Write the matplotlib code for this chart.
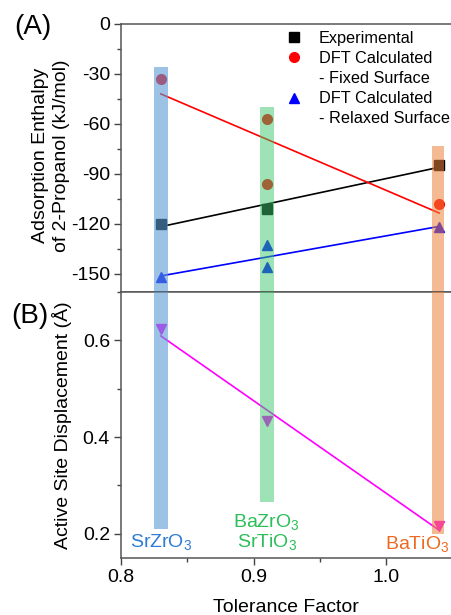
import numpy as np
import matplotlib
matplotlib.use("Agg")
import matplotlib.pyplot as plt
from matplotlib.lines import Line2D
from matplotlib.ticker import MultipleLocator

plt.rcParams['font.family'] = ['Liberation Sans', 'DejaVu Sans']
plt.rcParams['axes.unicode_minus'] = False

# tolerance factor for each material
tol_exp = [0.83, 0.91, 1.04]
h_exp = [-120, -111, -85]

tol_fixed = [0.83, 0.91, 0.91, 1.04]
h_fixed = [-33, -57, -96, -108]

tol_relax = [0.83, 0.91, 0.91, 1.04]
h_relax = [-152, -133, -146, -122]

tol_disp = [0.83, 0.91, 1.04]
disp = [0.623, 0.434, 0.216]

# shaded material bands
band_x = [0.83, 0.91, 1.0395]
band_top = [-26, -50, -73]          # in enthalpy units (panel A)
band_bottom = [0.21, 0.265, 0.20]   # in displacement units (panel B)
band_colors = ['#5B9BD5', '#3CC86E', '#EB823C']
band_alpha = [0.6, 0.5, 0.55]
band_width = [0.0105, 0.0105, 0.009]

mat_labels = ['SrZrO$_\\mathregular{3}$',
              'BaZrO$_\\mathregular{3}$\nSrTiO$_\\mathregular{3}$',
              'BaTiO$_\\mathregular{3}$']
mat_label_colors = ['#2F7BD6', '#2DBE5A', '#EC6A22']

fig = plt.figure(figsize=(4.51, 6.15), dpi=100)
ax1 = fig.add_axes([0.2683, 0.5252, 0.7317, 0.4358])
ax2 = fig.add_axes([0.2683, 0.0927, 0.7317, 0.4325])

xlim = (0.8, 1.049)
fit_x = np.array([0.83, 1.04])


def fit_line(x, y):
    p = np.polyfit(x, y, 1)
    return np.polyval(p, fit_x)


# panel A
ax1.plot(tol_exp, h_exp, 's', color='black', ms=6.5, zorder=3)
ax1.plot(tol_fixed, h_fixed, 'o', color='red', ms=7, zorder=3)
ax1.plot(tol_relax, h_relax, '^', color='blue', ms=7.5, zorder=3)
ax1.plot(fit_x, fit_line(tol_exp, h_exp), color='black', lw=1.2, zorder=2)
ax1.plot(fit_x, fit_line(tol_fixed, h_fixed), color='red', lw=1.2, zorder=2)
ax1.plot(fit_x, fit_line(tol_relax, h_relax), color='blue', lw=1.2, zorder=2)

ax1.set_xlim(*xlim)
ax1.set_ylim(-161, 0)
for x, top, c, a, w in zip(band_x, band_top, band_colors, band_alpha, band_width):
    ax1.bar(x, top - (-200), bottom=-200, width=w, color=c, alpha=a,
            lw=0, zorder=4)

ax1.yaxis.set_major_locator(MultipleLocator(30))
ax1.yaxis.set_minor_locator(MultipleLocator(15))
ax1.set_xticks([])
ax1.set_ylabel('Adsorption Enthalpy\nof 2-Propanol (kJ/mol)', fontsize=14,
               linespacing=1.3)
ax1.yaxis.set_label_coords(-0.155, 0.51)
ax1.spines['right'].set_visible(False)

handles = [Line2D([], [], ls='none', marker='s', color='black', ms=6.5),
           Line2D([], [], ls='none', marker='o', color='red', ms=7),
           Line2D([], [], ls='none', marker=None),
           Line2D([], [], ls='none', marker='^', color='blue', ms=7.5),
           Line2D([], [], ls='none', marker=None)]
labels = ['Experimental', 'DFT Calculated', '- Fixed Surface',
          'DFT Calculated', '- Relaxed Surface']
leg = ax1.legend(handles, labels, loc='upper left',
                 bbox_to_anchor=(0.50, 0.975), frameon=False, fontsize=11.7,
                 labelspacing=0.32, handlelength=1.0, handletextpad=1.0,
                 borderpad=0, borderaxespad=0)
leg.set_zorder(6)

# panel B
ax2.plot(tol_disp, disp, 'v', color='magenta', ms=7.5, zorder=3)
ax2.plot(fit_x, fit_line(tol_disp, disp), color='magenta', lw=1.2, zorder=2)
ax2.set_xlim(*xlim)
ax2.set_ylim(0.15, 0.7)
for x, bot, c, a, w in zip(band_x, band_bottom, band_colors, band_alpha, band_width):
    ax2.bar(x, 1.0 - bot, bottom=bot, width=w, color=c, alpha=a,
            lw=0, zorder=4)

ax2.yaxis.set_major_locator(MultipleLocator(0.2))
ax2.yaxis.set_minor_locator(MultipleLocator(0.1))
ax2.xaxis.set_major_locator(MultipleLocator(0.1))
ax2.xaxis.set_minor_locator(MultipleLocator(0.05))
ax2.set_ylabel('Active Site Displacement (Å)', fontsize=14)
ax2.yaxis.set_label_coords(-0.148, 0.5)
ax2.set_xlabel('Tolerance Factor', fontsize=14, labelpad=9)
ax2.spines['right'].set_visible(False)

ax2.text(0.83, 0.181, mat_labels[0], color=mat_label_colors[0], fontsize=14,
         ha='center', va='center')
ax2.text(0.91, 0.202, mat_labels[1], color=mat_label_colors[1], fontsize=14,
         ha='center', va='center', linespacing=1.0)
ax2.text(1.048, 0.177, mat_labels[2], color=mat_label_colors[2], fontsize=14,
         ha='right', va='center')

for ax in (ax1, ax2):
    ax.tick_params(axis='both', which='major', direction='out', length=5,
                   width=1, labelsize=14, color='#444444', pad=3)
    ax.tick_params(axis='both', which='minor', direction='out', length=3,
                   width=1, color='#444444')
    for s in ax.spines.values():
        s.set_color('#555555')
        s.set_linewidth(1.1)

fig.text(33 / 451, 1 - 27 / 615, '(A)', fontsize=20, ha='center', va='center')
fig.text(30 / 451, 1 - 316 / 615, '(B)', fontsize=20, ha='center', va='center')

fig.savefig('out.png', dpi=100)
